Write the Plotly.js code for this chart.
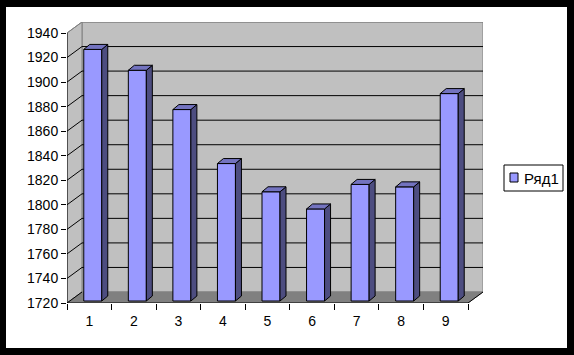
<!DOCTYPE html>
<html>
<head>
<meta charset="utf-8">
<script src="https://cdn.plot.ly/plotly-3.0.1.min.js"></script>
<style>
  html, body { margin: 0; padding: 0; background: #000; width: 574px; height: 355px; overflow: hidden; }
  #chart { position: absolute; left: 6px; top: 7px; width: 561px; height: 341px; background: #fff; }
</style>
</head>
<body>
<div id="chart"></div>
<script>
// ---- data ----
const categories = ['1', '2', '3', '4', '5', '6', '7', '8', '9'];
const values = [1925, 1908, 1876, 1832, 1809, 1795, 1815, 1813, 1889];
const yTicks = [1720, 1740, 1760, 1780, 1800, 1820, 1840, 1860, 1880, 1900, 1920, 1940];
const seriesName = 'Ряд1';

// ---- geometry (pixels of the frame) ----
const W = 561, H = 341;
const L = 61, R = 84, T = 15, B = 45;
const plotW = W - L - R, plotH = H - T - B;
const yMin = yTicks[0], yMax = yTicks[yTicks.length - 1];
const pxY = 270 / (yMax - yMin);        // px per value unit
const pxX = 401 / categories.length;     // px per category on the front plane
const xMin = 0.5, xMax = xMin + plotW / pxX;
const yTop = yMin + plotH / pxY;

const wdx = 15 / pxX, wdy = 11 / pxY;    // wall depth
const bShift = 3.5 / pxX, bBase = 2 / pxY; // bar front plane offset
const bW = 18 / pxX;                      // bar width
const bdx = 6 / pxX, bdy = 5 / pxY;       // bar depth

const xs = categories.map((c, i) => i + 1);
const xLeftFront = xMin, xRightFront = xMin + categories.length;

function path(pts) {
  return 'M' + pts.map(p => p[0] + ',' + p[1]).join('L') + 'Z';
}
function line(p, q) { return 'M' + p[0] + ',' + p[1] + 'L' + q[0] + ',' + q[1]; }

const shapes = [];
// back wall
shapes.push({type: 'path', xref: 'x', yref: 'y', layer: 'below',
  path: path([[xLeftFront + wdx, yMin + wdy], [xRightFront + wdx, yMin + wdy],
              [xRightFront + wdx, yMax + wdy], [xLeftFront + wdx, yMax + wdy]]),
  fillcolor: '#c0c0c0', line: {color: '#808080', width: 1}});
// left wall
shapes.push({type: 'path', xref: 'x', yref: 'y', layer: 'below',
  path: path([[xLeftFront, yMin], [xLeftFront + wdx, yMin + wdy],
              [xLeftFront + wdx, yMax + wdy], [xLeftFront, yMax]]),
  fillcolor: '#c0c0c0', line: {color: '#808080', width: 1}});
// floor
shapes.push({type: 'path', xref: 'x', yref: 'y', layer: 'below',
  path: path([[xLeftFront, yMin], [xRightFront, yMin],
              [xRightFront + wdx, yMin + wdy], [xLeftFront + wdx, yMin + wdy]]),
  fillcolor: '#808080', line: {color: '#808080', width: 1}});
// gridlines
yTicks.forEach((t, i) => {
  const last = i === yTicks.length - 1;
  const col = last ? '#808080' : '#000';
  if (i > 0) {
    shapes.push({type: 'path', xref: 'x', yref: 'y', layer: 'below',
      path: line([xLeftFront + wdx, t + wdy], [xRightFront + wdx, t + wdy]),
      line: {color: col, width: 1}});
  }
  shapes.push({type: 'path', xref: 'x', yref: 'y', layer: 'below',
    path: line([xLeftFront, t], [xLeftFront + wdx, t + wdy]),
    line: {color: col, width: 1}});
});
// axis lines
shapes.push({type: 'path', xref: 'x', yref: 'y', layer: 'below',
  path: line([xLeftFront, yMin], [xLeftFront, yMax]), line: {color: '#000', width: 1}});
shapes.push({type: 'path', xref: 'x', yref: 'y', layer: 'below',
  path: line([xLeftFront, yMin], [xRightFront, yMin]), line: {color: '#000', width: 1}});
shapes.push({type: 'path', xref: 'x', yref: 'y', layer: 'below',
  path: line([xRightFront, yMin], [xRightFront + wdx, yMin + wdy]), line: {color: '#000', width: 1}});

// legend (drawn by hand, in paper coordinates)
const px2x = px => (px - L) / plotW;
const py2y = py => (H - B - py) / plotH;
shapes.push({type: 'rect', xref: 'paper', yref: 'paper',
  x0: px2x(498), x1: px2x(557), y0: py2y(184), y1: py2y(158),
  fillcolor: '#fff', line: {color: '#000', width: 1}});
shapes.push({type: 'rect', xref: 'paper', yref: 'paper',
  x0: px2x(504), x1: px2x(512), y0: py2y(175), y1: py2y(166),
  fillcolor: '#9999ff', line: {color: '#000', width: 1}});

// ---- traces ----
const barX = xs.map(x => x + bShift);
const frontTrace = {
  type: 'bar', x: barX, y: values.map(v => v - yMin), base: yMin + bBase,
  width: bW, name: seriesName, showlegend: false, hoverinfo: 'skip',
  marker: {color: '#9999ff', line: {color: '#000', width: 1}}
};
const sideX = [], sideY = [], topX = [], topY = [];
values.forEach((v, i) => {
  const xl = barX[i] - bW / 2, xr = barX[i] + bW / 2;
  const yb = yMin + bBase, yt = yb + (v - yMin);
  sideX.push(xr, xr + bdx, xr + bdx, xr, xr, null);
  sideY.push(yb, yb + bdy, yt + bdy, yt, yb, null);
  topX.push(xl, xr, xr + bdx, xl + bdx, xl, null);
  topY.push(yt, yt, yt + bdy, yt + bdy, yt, null);
});
const sideTrace = {type: 'scatter', mode: 'lines', x: sideX, y: sideY, fill: 'toself',
  fillcolor: '#4d4d80', line: {color: '#000', width: 1}, showlegend: false, hoverinfo: 'skip'};
const topTrace = {type: 'scatter', mode: 'lines', x: topX, y: topY, fill: 'toself',
  fillcolor: '#7373bf', line: {color: '#000', width: 1}, showlegend: false, hoverinfo: 'skip'};
const dummyTrace = {type: 'scatter', x: [null], y: [null], xaxis: 'x2', showlegend: false, hoverinfo: 'skip'};

const font = {family: 'Liberation Sans, Arial, sans-serif', size: 14, color: '#000'};
const legendFont = {family: 'Liberation Sans, Arial, sans-serif', size: 15, color: '#000'};
const layout = {
  width: W, height: H,
  margin: {l: L, r: R, t: T, b: B, pad: 0},
  paper_bgcolor: '#fff', plot_bgcolor: 'rgba(0,0,0,0)',
  showlegend: false, font: font,
  xaxis: {range: [xMin, xMax], tickmode: 'array', tickvals: xs, ticktext: categories,
    ticks: 'outside', ticklen: 5, tickcolor: 'rgba(0,0,0,0)', showgrid: false,
    zeroline: false, showline: false, fixedrange: true, tickfont: font},
  xaxis2: {range: [xMin, xMax], overlaying: 'x', anchor: 'y', side: 'bottom',
    tickmode: 'array', tickvals: xs.map(x => x - 0.5).concat([xRightFront]),
    ticks: 'outside', ticklen: 6, tickcolor: '#000', tickwidth: 1,
    showticklabels: false, showgrid: false, zeroline: false, showline: false, fixedrange: true},
  yaxis: {range: [yMin, yTop], tickmode: 'array', tickvals: yTicks,
    ticks: 'outside', ticklen: 5, tickcolor: '#000', tickwidth: 1,
    showgrid: false, zeroline: false, showline: false, fixedrange: true, tickfont: font},
  shapes: shapes,
  annotations: [{xref: 'paper', yref: 'paper', x: px2x(516), y: py2y(171),
    xanchor: 'left', yanchor: 'middle', showarrow: false, text: seriesName, font: legendFont}]
};

Plotly.newPlot('chart', [frontTrace, sideTrace, topTrace, dummyTrace], layout, {staticPlot: true, displayModeBar: false});
</script>
</body>
</html>
